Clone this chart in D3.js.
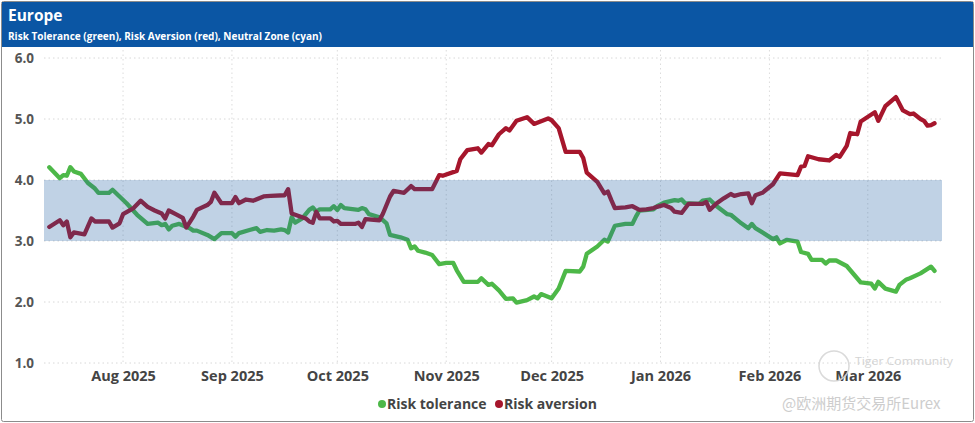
<!DOCTYPE html>
<html><head><meta charset="utf-8">
<script src="https://cdn.jsdelivr.net/npm/d3@7"></script>
<style>
body{margin:0;background:#fff;}
svg{display:block;font-family:"Open Sans","Noto Sans",sans-serif;}
</style>
</head><body>
<svg id="c" width="975" height="423"></svg>
<script>
const title = "Europe";
const subtitle = "Risk Tolerance (green), Risk Aversion (red), Neutral Zone (cyan)";
const yTicks = [1, 2, 3, 4, 5, 6];
const monthTicks = ["2025-08-01","2025-09-01","2025-10-01","2025-11-01","2025-12-01","2026-01-01","2026-02-01","2026-03-01"];
const neutralZone = [3, 4];
const seriesNames = ["Risk tolerance", "Risk aversion"];
const watermarkTop = "Tiger Community";
const watermarkBottom = "@欧洲期货交易所Eurex";

const toleranceDates = ["2025-07-11","2025-07-14","2025-07-15","2025-07-16","2025-07-17","2025-07-18","2025-07-20","2025-07-22","2025-07-24","2025-07-25","2025-07-28","2025-07-29","2025-07-31",
"2025-08-02","2025-08-05","2025-08-08","2025-08-11","2025-08-12","2025-08-13","2025-08-14","2025-08-15","2025-08-17","2025-08-20","2025-08-21","2025-08-22","2025-08-25","2025-08-27","2025-08-29",
"2025-09-01","2025-09-02","2025-09-03","2025-09-06","2025-09-08","2025-09-09","2025-09-11","2025-09-13","2025-09-15","2025-09-16","2025-09-17","2025-09-18","2025-09-19","2025-09-21","2025-09-23","2025-09-24","2025-09-25","2025-09-26","2025-09-29","2025-09-30",
"2025-10-01","2025-10-02","2025-10-03","2025-10-07","2025-10-08","2025-10-09","2025-10-10","2025-10-13","2025-10-15","2025-10-16","2025-10-19","2025-10-21","2025-10-22","2025-10-23","2025-10-24","2025-10-26","2025-10-28","2025-10-30",
"2025-11-01","2025-11-03","2025-11-04","2025-11-06","2025-11-10","2025-11-11","2025-11-13","2025-11-14","2025-11-16","2025-11-18","2025-11-20","2025-11-21","2025-11-24","2025-11-26","2025-11-27","2025-11-28",
"2025-12-01","2025-12-03","2025-12-05","2025-12-09","2025-12-10","2025-12-11","2025-12-14","2025-12-16","2025-12-17","2025-12-19","2025-12-22","2025-12-24","2025-12-25","2025-12-26","2025-12-30","2025-12-31",
"2026-01-02","2026-01-05","2026-01-06","2026-01-07","2026-01-08","2026-01-12","2026-01-13","2026-01-15","2026-01-17","2026-01-20","2026-01-21","2026-01-24","2026-01-26","2026-01-27","2026-01-28","2026-01-30",
"2026-02-02","2026-02-03","2026-02-04","2026-02-06","2026-02-09","2026-02-10","2026-02-12","2026-02-13","2026-02-16","2026-02-17","2026-02-18","2026-02-20","2026-02-23","2026-02-27",
"2026-03-02","2026-03-03","2026-03-04","2026-03-06","2026-03-09","2026-03-10","2026-03-12","2026-03-13","2026-03-16","2026-03-19","2026-03-20"];
const toleranceValues = [4.21,4.03,4.08,4.07,4.21,4.14,4.10,3.95,3.86,3.79,3.79,3.84,3.73,
3.62,3.43,3.28,3.30,3.26,3.28,3.19,3.25,3.28,3.21,3.17,3.17,3.10,3.03,3.13,
3.13,3.07,3.13,3.18,3.21,3.15,3.18,3.17,3.19,3.18,3.14,3.39,3.30,3.37,3.51,3.55,3.48,3.52,3.52,3.57,
3.51,3.59,3.54,3.51,3.54,3.52,3.44,3.39,3.29,3.10,3.06,3.02,2.88,2.91,2.84,2.81,2.77,2.62,
2.64,2.64,2.52,2.33,2.33,2.39,2.28,2.30,2.19,2.05,2.06,1.99,2.03,2.09,2.06,2.13,
2.06,2.22,2.51,2.50,2.58,2.79,2.91,3.02,2.99,3.25,3.28,3.28,3.40,3.50,3.52,3.57,
3.63,3.67,3.66,3.68,3.62,3.61,3.66,3.68,3.57,3.44,3.43,3.29,3.21,3.28,3.21,3.14,
3.03,3.06,2.96,3.02,2.99,2.82,2.79,2.69,2.69,2.63,2.68,2.68,2.59,2.32,
2.30,2.22,2.33,2.22,2.17,2.28,2.37,2.39,2.47,2.58,2.51];

const aversionDates = ["2025-07-11","2025-07-14","2025-07-15","2025-07-16","2025-07-17","2025-07-18","2025-07-21","2025-07-23","2025-07-24","2025-07-28","2025-07-29","2025-07-31",
"2025-08-01","2025-08-04","2025-08-06","2025-08-08","2025-08-10","2025-08-12","2025-08-13","2025-08-14","2025-08-16","2025-08-18","2025-08-19","2025-08-21","2025-08-22","2025-08-25","2025-08-26","2025-08-27","2025-08-29",
"2025-09-01","2025-09-02","2025-09-03","2025-09-05","2025-09-07","2025-09-10","2025-09-12","2025-09-16","2025-09-17","2025-09-18","2025-09-19","2025-09-22","2025-09-23","2025-09-24","2025-09-25","2025-09-26","2025-09-29","2025-09-30",
"2025-10-01","2025-10-02","2025-10-06","2025-10-07","2025-10-08","2025-10-09","2025-10-13","2025-10-14","2025-10-16","2025-10-17","2025-10-20","2025-10-22","2025-10-23","2025-10-28","2025-10-30","2025-10-31",
"2025-11-04","2025-11-05","2025-11-07","2025-11-10","2025-11-11","2025-11-13","2025-11-14","2025-11-16","2025-11-18","2025-11-19","2025-11-21","2025-11-24","2025-11-26","2025-11-30",
"2025-12-01","2025-12-03","2025-12-05","2025-12-09","2025-12-10","2025-12-11","2025-12-14","2025-12-16","2025-12-17","2025-12-18","2025-12-19","2025-12-22","2025-12-24","2025-12-26","2025-12-28","2025-12-30","2025-12-31",
"2026-01-02","2026-01-04","2026-01-05","2026-01-07","2026-01-09","2026-01-13","2026-01-14","2026-01-15","2026-01-17","2026-01-19","2026-01-21","2026-01-22","2026-01-24","2026-01-26","2026-01-27","2026-01-28","2026-01-30",
"2026-02-02","2026-02-04","2026-02-09","2026-02-10","2026-02-11","2026-02-12","2026-02-15","2026-02-18","2026-02-20","2026-02-21","2026-02-23","2026-02-24","2026-02-26","2026-02-27",
"2026-03-03","2026-03-04","2026-03-06","2026-03-09","2026-03-11","2026-03-13","2026-03-14","2026-03-16","2026-03-17","2026-03-18","2026-03-19","2026-03-20"];
const aversionValues = [3.23,3.34,3.26,3.32,3.06,3.14,3.11,3.37,3.32,3.32,3.22,3.29,
3.44,3.54,3.66,3.56,3.50,3.45,3.37,3.50,3.44,3.38,3.22,3.40,3.51,3.59,3.64,3.79,3.62,
3.62,3.72,3.62,3.68,3.66,3.73,3.74,3.75,3.85,3.45,3.43,3.37,3.32,3.30,3.48,3.37,3.37,3.32,
3.33,3.28,3.28,3.30,3.23,3.36,3.34,3.45,3.73,3.82,3.79,3.90,3.85,3.85,4.08,4.07,
4.15,4.34,4.49,4.52,4.45,4.59,4.57,4.75,4.85,4.81,4.97,5.03,4.92,5.01,
4.98,4.85,4.46,4.46,4.36,4.12,3.97,3.78,3.81,3.67,3.54,3.55,3.57,3.51,3.52,3.54,3.56,
3.59,3.54,3.48,3.46,3.61,3.61,3.64,3.51,3.62,3.70,3.77,3.74,3.77,3.78,3.62,3.75,3.79,
3.93,4.11,4.08,4.22,4.23,4.39,4.34,4.32,4.41,4.38,4.56,4.77,4.75,4.96,
5.11,4.97,5.21,5.36,5.14,5.08,5.09,5.00,4.97,4.89,4.90,4.93];

const parse = d3.utcParse("%Y-%m-%d");
const series = [
  {name: seriesNames[0], color: "#4db848", data: toleranceDates.map((d, i) => ({date: parse(d), value: toleranceValues[i]}))},
  {name: seriesNames[1], color: "#a6162c", data: aversionDates.map((d, i) => ({date: parse(d), value: aversionValues[i]}))}
];

const svg = d3.select("#c");
const W = 975, H = 423;
const plotLeft = 44, plotRight = 942, plotTop = 58, plotBottom = 363;

// frame and header
svg.append("rect").attr("x", 1.5).attr("y", 1.5).attr("width", W - 3).attr("height", H - 3)
  .attr("rx", 2).attr("fill", "#fff").attr("stroke", "#8c8c8c").attr("stroke-width", 1);
svg.append("rect").attr("x", 2).attr("y", 2).attr("width", W - 4).attr("height", 45).attr("fill", "#0b56a4");
svg.append("text").attr("x", 8).attr("y", 21).attr("fill", "#fff").attr("font-size", 15.5).attr("font-weight", 700).text(title);
svg.append("text").attr("x", 8).attr("y", 40).attr("fill", "#fff").attr("font-size", 10).attr("font-weight", 700)
  .attr("textLength", 314).attr("lengthAdjust", "spacingAndGlyphs").text(subtitle);

const x = d3.scaleUtc().domain([Date.UTC(2025, 6, 9, 12), Date.UTC(2026, 2, 22, 3)]).range([plotLeft, plotRight]);
const y = d3.scaleLinear().domain([1, 6]).range([plotBottom, plotTop]);
const monthDates = monthTicks.map(parse);

// grid
const grid = svg.append("g");
grid.selectAll("line.h").data(yTicks).join("line").attr("class", "h")
  .attr("x1", plotLeft).attr("x2", plotRight).attr("y1", d => y(d)).attr("y2", d => y(d))
  .attr("stroke", "#d8d8d8").attr("stroke-dasharray", "1.5,3");
grid.selectAll("line.v").data(monthDates).join("line").attr("class", "v")
  .attr("x1", d => x(d)).attr("x2", d => x(d)).attr("y1", 50).attr("y2", plotBottom + 2)
  .attr("stroke", "#dcdcdc").attr("stroke-dasharray", "1.5,3");

// axes
const yAxis = svg.append("g").attr("transform", `translate(${plotLeft},0)`)
  .call(d3.axisLeft(y).tickValues(yTicks).tickFormat(d3.format(".1f")).tickSize(0).tickPadding(10));
yAxis.select(".domain").remove();
yAxis.selectAll("text").attr("font-size", 13.5).attr("font-weight", 700).attr("fill", "#555")
  .attr("font-family", "'Open Sans',sans-serif");

const xAxis = svg.append("g").attr("transform", `translate(0,${plotBottom})`)
  .call(d3.axisBottom(x).tickValues(monthDates).tickFormat(d3.utcFormat("%b %Y")).tickSize(0).tickPadding(8));
xAxis.select(".domain").remove();
xAxis.selectAll("text").attr("font-size", 14.5).attr("font-weight", 700).attr("fill", "#444")
  .attr("font-family", "'Open Sans',sans-serif");

// lines
const line = d3.line().x(d => x(d.date)).y(d => y(d.value));
svg.append("g").selectAll("path").data(series).join("path")
  .attr("d", d => line(d.data)).attr("fill", "none").attr("stroke", d => d.color)
  .attr("stroke-width", 4.3).attr("stroke-linejoin", "round").attr("stroke-linecap", "round");

// neutral zone band drawn over lines (translucent)
svg.append("rect").attr("x", plotLeft).attr("width", plotRight - plotLeft)
  .attr("y", y(neutralZone[1])).attr("height", y(neutralZone[0]) - y(neutralZone[1]))
  .attr("fill", "rgb(30,95,160)").attr("fill-opacity", 0.28);

// legend
const legend = svg.append("g").attr("font-size", 14).attr("font-weight", 700).attr("fill", "#444");
const legendX = [382, 499];
series.forEach((s, i) => {
  legend.append("circle").attr("cx", legendX[i]).attr("cy", 404).attr("r", 4).attr("fill", s.color);
  legend.append("text").attr("x", legendX[i] + 5).attr("y", 409).attr("fill", "#444").text(s.name);
});

// watermark
const wm = svg.append("g").attr("opacity", 0.9);
wm.append("circle").attr("cx", 834).attr("cy", 366).attr("r", 15).attr("fill", "none").attr("stroke", "#d6d6d6").attr("stroke-width", 1.5);
wm.append("text").attr("x", 855).attr("y", 365).attr("font-size", 10.5).attr("fill", "#cfcfcf")
  .attr("textLength", 98).attr("lengthAdjust", "spacingAndGlyphs").text(watermarkTop);
wm.append("text").attr("x", 782).attr("y", 409).attr("font-size", 15).attr("fill", "#c8c8c8")
  .attr("font-family", "'Noto Sans CJK SC',sans-serif").text(watermarkBottom);
</script>
</body></html>
